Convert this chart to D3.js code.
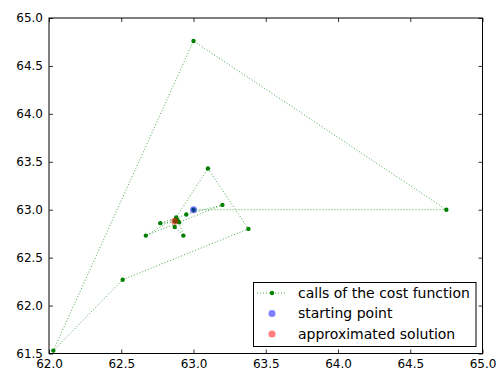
<!DOCTYPE html>
<html>
<head>
<meta charset="utf-8">
<script src="https://cdn.jsdelivr.net/npm/d3@7"></script>
<style>
  html, body { margin: 0; padding: 0; background: #fff; }
  svg { display: block; font-family: "DejaVu Sans", sans-serif; }
</style>
</head>
<body>
<svg id="chart" width="500" height="374"></svg>
<script>
// ---- data ----
const callsX = [63.0, 64.75, 63.0, 62.03, 62.51, 63.38, 63.10, 62.88, 62.67, 63.20, 62.95, 62.77, 62.90, 62.93, 62.87, 62.89, 62.87];
const callsY = [63.0, 63.0, 64.76, 61.53, 62.27, 62.80, 63.43, 62.92, 62.73, 63.05, 62.95, 62.86, 62.87, 62.73, 62.82, 62.89, 62.88];
const startPoint = [63.0, 63.0];
const solution = [62.87, 62.88];
const xTicks = [62.0, 62.5, 63.0, 63.5, 64.0, 64.5, 65.0];
const yTicks = [61.5, 62.0, 62.5, 63.0, 63.5, 64.0, 64.5, 65.0];
const legendLabels = ["calls of the cost function", "starting point", "approximated solution"];

// ---- layout ----
const L = 49, R = 482.5, T = 18, B = 353.5;
const svg = d3.select("#chart");
const x = d3.scaleLinear().domain([62, 65]).range([L, R]);
const y = d3.scaleLinear().domain([61.5, 65]).range([B, T]);
const fmt = d3.format(".1f");

// axes (inward ticks on all sides)
const axB = svg.append("g").attr("transform", `translate(0,${B})`)
  .call(d3.axisBottom(x).tickValues(xTicks).tickFormat(fmt).tickSize(-4).tickPadding(6));
const axT = svg.append("g").attr("transform", `translate(0,${T})`)
  .call(d3.axisTop(x).tickValues(xTicks).tickFormat("").tickSize(-4));
const axL = svg.append("g").attr("transform", `translate(${L},0)`)
  .call(d3.axisLeft(y).tickValues(yTicks).tickFormat(fmt).tickSize(-4).tickPadding(6));
const axR = svg.append("g").attr("transform", `translate(${R},0)`)
  .call(d3.axisRight(y).tickValues(yTicks).tickFormat("").tickSize(-4));
[axB, axT, axL, axR].forEach(g => {
  g.select(".domain").remove();
  g.selectAll("line").attr("stroke", "#000").attr("stroke-width", 0.8);
  g.selectAll("text").attr("font-size", 12).attr("fill", "#000").attr("font-family", "DejaVu Sans, sans-serif");
});

// plot frame
svg.append("rect").attr("x", L).attr("y", T).attr("width", R - L).attr("height", B - T)
  .attr("fill", "none").attr("stroke", "#000").attr("stroke-width", 1);

const plot = svg.append("g");
const pts = callsX.map((v, i) => [v, callsY[i]]);

// path of calls
plot.append("path")
  .attr("d", d3.line().x(d => x(d[0])).y(d => y(d[1]))(pts))
  .attr("fill", "none").attr("stroke", "#008000").attr("stroke-width", 1)
  .attr("stroke-opacity", 0.7).attr("stroke-dasharray", "1,2");
plot.selectAll("circle.call").data(pts).join("circle").attr("class", "call")
  .attr("cx", d => x(d[0])).attr("cy", d => y(d[1])).attr("r", 2.2)
  .attr("fill", "#008000");

// starting point
plot.append("circle").attr("cx", x(startPoint[0])).attr("cy", y(startPoint[1])).attr("r", 3.5)
  .attr("fill", "#0000ff").attr("fill-opacity", 0.5);
// solution
plot.append("circle").attr("cx", x(solution[0])).attr("cy", y(solution[1])).attr("r", 3.5)
  .attr("fill", "#ff0000").attr("fill-opacity", 0.5);

// ---- legend ----
const lg = svg.append("g");
lg.append("rect").attr("x", 253.5).attr("y", 282.5).attr("width", 222.5).attr("height", 64)
  .attr("fill", "#fff").attr("stroke", "#000").attr("stroke-width", 1);
const rowY = [293, 313.5, 334];
lg.append("line").attr("x1", 257).attr("x2", 287).attr("y1", rowY[0]).attr("y2", rowY[0])
  .attr("stroke", "#008000").attr("stroke-width", 1).attr("stroke-opacity", 0.7).attr("stroke-dasharray", "1,2");
lg.append("circle").attr("cx", 272).attr("cy", rowY[0]).attr("r", 2.2).attr("fill", "#008000");
lg.append("circle").attr("cx", 272).attr("cy", rowY[1]).attr("r", 3.5).attr("fill", "#0000ff").attr("fill-opacity", 0.5);
lg.append("circle").attr("cx", 272).attr("cy", rowY[2]).attr("r", 3.5).attr("fill", "#ff0000").attr("fill-opacity", 0.5);
lg.selectAll("text").data(legendLabels).join("text")
  .attr("x", 298).attr("y", (d, i) => rowY[i]).attr("dy", "0.35em")
  .attr("font-size", 14).attr("fill", "#000").text(d => d);
</script>
</body>
</html>
